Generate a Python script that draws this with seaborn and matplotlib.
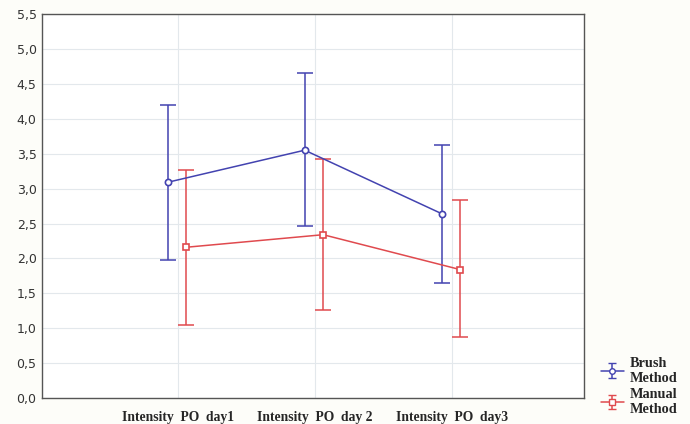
import numpy as np
import pandas as pd
import matplotlib.pyplot as plt
import seaborn as sns

categories = ["Intensity  PO  day1", "Intensity  PO  day 2", "Intensity  PO  day3"]
brush_mean = [3.09, 3.55, 2.64]
brush_upper = [4.19, 4.65, 3.62]
brush_lower = [1.98, 2.46, 1.65]
manual_mean = [2.16, 2.34, 1.84]
manual_upper = [3.26, 3.42, 2.84]
manual_lower = [1.05, 1.26, 0.87]

sns.set_style("whitegrid")

fig = plt.figure(figsize=(6.9, 4.24), dpi=100, facecolor="#fdfdf9")
ax = fig.add_axes([0.061, 0.061, 0.785, 0.906])

pos = np.arange(len(categories))
series = [
    ("Brush\nMethod", brush_mean, brush_lower, brush_upper, "#4343b0", "o", -0.075),
    ("Manual\nMethod", manual_mean, manual_lower, manual_upper, "#e04a4e", "s", 0.06),
]

for name, mean, lo, hi, color, marker, off in series:
    x = pos + off
    df = pd.DataFrame({"x": x, "y": mean})
    sns.lineplot(data=df, x="x", y="y", ax=ax, color=color, lw=1.1,
                 marker=marker, markersize=4.5, markerfacecolor="white",
                 markeredgecolor=color, markeredgewidth=1.2, zorder=3)
    err = [np.array(mean) - np.array(lo), np.array(hi) - np.array(mean)]
    ax.errorbar(x, mean, yerr=err, fmt="none", ecolor=color, elinewidth=1.1,
                capsize=6, capthick=1.1, zorder=2)

# legend handles drawn like errorbar glyphs
handles = []
for name, mean, lo, hi, color, marker, off in series:
    h = ax.errorbar([np.nan], [np.nan], yerr=[np.nan], color=color, marker=marker,
                    markersize=4, markerfacecolor="white", markeredgecolor=color,
                    lw=1.1, capsize=3)
    handles.append((h, name))
leg = fig.legend([h for h, n in handles], [n for h, n in handles],
                 loc="lower left", bbox_to_anchor=(0.852, -0.012), frameon=False,
                 prop={"family": "Liberation Serif", "weight": "bold", "size": 10.3},
                 handlelength=1.6, handletextpad=0.4, labelspacing=0.25)

ax.set_xlim(-0.99, 2.96)
ax.set_ylim(0, 5.5)
ax.set_yticks(np.arange(0, 5.51, 0.5))
ax.set_yticklabels([f"{v:.1f}".replace(".", ",") for v in np.arange(0, 5.51, 0.5)],
                   fontsize=9, color="#333333")
ax.set_xticks(pos)
ax.set_xticklabels(categories, family="Liberation Serif", weight="bold", fontsize=9.8)
ax.set_xlabel("")
ax.set_ylabel("")
ax.grid(True, color="#e3e8ec", lw=0.8)
for s in ax.spines.values():
    s.set_color("#555555")
    s.set_linewidth(1.0)
ax.tick_params(axis="both", length=0, pad=4)
ax.tick_params(axis="x", pad=9.5)

fig.savefig("out.png", dpi=100, facecolor=fig.get_facecolor())
